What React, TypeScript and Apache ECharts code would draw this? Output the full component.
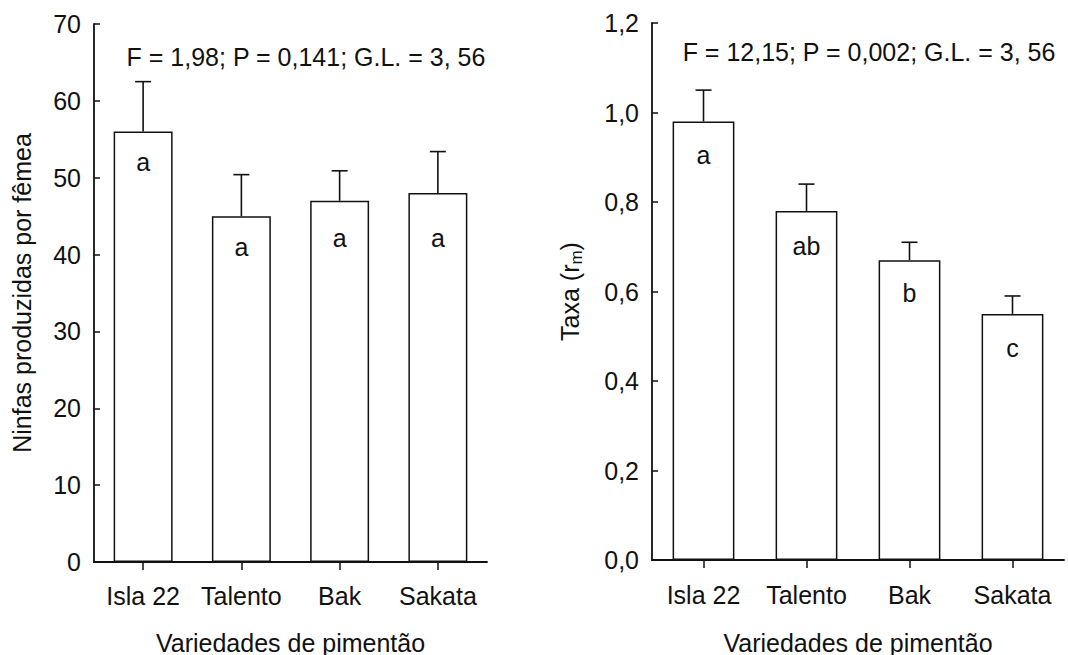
import React, { useEffect, useRef } from "react";
import * as echarts from "echarts";

const categories = ["Isla 22", "Talento", "Bak", "Sakata"];

const nymphMeans = [56, 45, 47, 48];
const nymphUpper = [62.5, 50.4, 50.9, 53.4];
const nymphLetters = ["a", "a", "a", "a"];
const nymphLetterY = [52, 41, 42.1, 42.1];
const nymphStat = "F = 1,98; P = 0,141; G.L. = 3, 56";

const rateMeans = [0.98, 0.78, 0.67, 0.55];
const rateUpper = [1.05, 0.84, 0.71, 0.59];
const rateLetters = ["a", "ab", "b", "c"];
const rateLetterY = [0.906, 0.701, 0.597, 0.474];
const rateStat = "F = 12,15; P = 0,002; G.L. = 3, 56";

const xTitle = "Variedades de pimentão";
const leftYTitle = "Ninfas produzidas por fêmea";

const FONT = '"Liberation Sans", Arial, Helvetica, sans-serif';
const INK = "#111";
const FS = 25;

function errorRender(params: any, api: any) {
  const idx = api.value(0);
  const base = api.coord([idx, api.value(1)]);
  const top = api.coord([idx, api.value(2)]);
  const st = { stroke: INK, lineWidth: 1.6 };
  return {
    type: "group",
    children: [
      { type: "line", shape: { x1: top[0], y1: base[1], x2: top[0], y2: top[1] }, style: st },
      { type: "line", shape: { x1: top[0] - 8, y1: top[1], x2: top[0] + 8, y2: top[1] }, style: st },
    ],
  };
}

export default function App() {
  const ref = useRef<HTMLDivElement>(null);
  useEffect(() => {
    if (!ref.current) return;
    const chart = echarts.init(ref.current, undefined, { renderer: "svg" });

    const xAxisBase = (gi: number, gap: number, margin: number) => ({
      type: "category",
      gridIndex: gi,
      data: categories,
      boundaryGap: true,
      axisLine: { show: true, lineStyle: { color: INK, width: 1.8 } },
      axisTick: { show: true, alignWithLabel: true, inside: false, length: 8, lineStyle: { color: INK, width: 1.5 } },
      axisLabel: { color: INK, fontSize: FS, fontFamily: FONT, margin, interval: 0 },
      name: xTitle,
      nameLocation: "middle",
      nameGap: gap,
      nameTextStyle: { color: INK, fontSize: FS, fontFamily: FONT },
      splitLine: { show: false },
    });

    const yAxisBase = (gi: number) => ({
      type: "value",
      gridIndex: gi,
      axisLine: { show: true, lineStyle: { color: INK, width: 1.8 } },
      axisTick: { show: true, inside: true, length: 6, lineStyle: { color: INK, width: 1.5 } },
      splitLine: { show: false },
      nameLocation: "middle",
    });

    const letterSeries = (gi: number, ys: number[], letters: string[]) => ({
      type: "scatter",
      xAxisIndex: gi,
      yAxisIndex: gi,
      symbolSize: 1,
      itemStyle: { opacity: 0 },
      data: ys.map((y, i) => [i, y]),
      label: {
        show: true,
        position: "inside",
        formatter: (p: any) => letters[p.dataIndex],
        color: INK,
        opacity: 1,
        fontSize: FS,
        fontFamily: FONT,
      },
      z: 4,
    });

    const option: any = {
      animation: false,
      backgroundColor: "#fff",
      textStyle: { fontFamily: FONT },
      grid: [
        { left: 94, top: 24, width: 393, height: 538, outerBoundsMode: "none", containLabel: false },
        { left: 652, top: 23, width: 412, height: 537, outerBoundsMode: "none", containLabel: false },
      ],
      xAxis: [xAxisBase(0, 68, 21), xAxisBase(1, 70, 22)],
      yAxis: [
        {
          ...yAxisBase(0),
          min: 0,
          max: 70,
          interval: 10,
          axisLabel: { color: INK, fontSize: FS, fontFamily: FONT, margin: 13 },
          name: leftYTitle,
          nameGap: 60,
          nameTextStyle: { color: INK, fontSize: FS, fontFamily: FONT },
        },
        {
          ...yAxisBase(1),
          min: 0,
          max: 1.2,
          interval: 0.2,
          axisLabel: {
            color: INK,
            fontSize: FS,
            fontFamily: FONT,
            margin: 13,
            formatter: (v: number) => v.toFixed(1).replace(".", ","),
          },
          name: "Taxa (r{sub|m})",
          nameGap: 67,
          nameTextStyle: {
            color: INK,
            fontSize: FS,
            fontFamily: FONT,
            lineHeight: 30,
            rich: {
              sub: { fontSize: 17, fontFamily: FONT, color: INK, verticalAlign: "bottom", lineHeight: 4 },
            },
          },
        },
      ],
      graphic: [
        {
          type: "text",
          x: 306,
          y: 57,
          style: {
            text: nymphStat,
            fill: INK,
            font: `${FS}px ${FONT}`,
            textAlign: "center",
            textVerticalAlign: "middle",
          },
        },
        {
          type: "text",
          x: 869,
          y: 52,
          style: {
            text: rateStat,
            fill: INK,
            font: `${FS}px ${FONT}`,
            textAlign: "center",
            textVerticalAlign: "middle",
          },
        },
      ],
      series: [
        {
          type: "bar",
          xAxisIndex: 0,
          yAxisIndex: 0,
          data: nymphMeans,
          barWidth: "60%",
          itemStyle: { color: "#fff", borderColor: INK, borderWidth: 1.5 },
          z: 2,
        },
        {
          type: "custom",
          xAxisIndex: 0,
          yAxisIndex: 0,
          renderItem: errorRender,
          data: nymphMeans.map((m, i) => [i, m, nymphUpper[i]]),
          z: 3,
        },
        letterSeries(0, nymphLetterY, nymphLetters),
        {
          type: "bar",
          xAxisIndex: 1,
          yAxisIndex: 1,
          data: rateMeans,
          barWidth: "60%",
          itemStyle: { color: "#fff", borderColor: INK, borderWidth: 1.5 },
          z: 2,
        },
        {
          type: "custom",
          xAxisIndex: 1,
          yAxisIndex: 1,
          renderItem: errorRender,
          data: rateMeans.map((m, i) => [i, m, rateUpper[i]]),
          z: 3,
        },
        letterSeries(1, rateLetterY, rateLetters),
      ],
    };

    chart.setOption(option);
    return () => chart.dispose();
  }, []);

  return (
    <div
      ref={ref}
      style={{ position: "fixed", left: 0, top: 0, width: 1068, height: 655, background: "#fff" }}
    />
  );
}
